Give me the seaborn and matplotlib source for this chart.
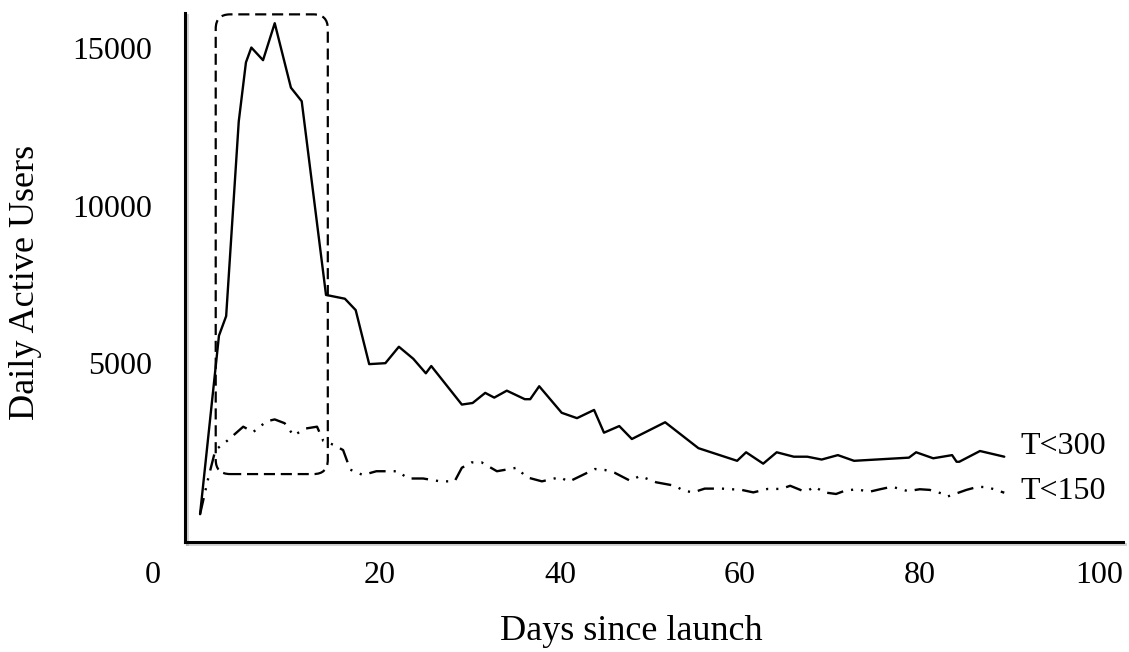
import matplotlib
matplotlib.use("Agg")
import matplotlib.pyplot as plt
import matplotlib.transforms as mtransforms
import matplotlib.patheffects as pe
from matplotlib.patches import FancyBboxPatch
import pandas as pd
import seaborn as sns

# ---------------- data ----------------
days_t300 = [0, 2.1, 2.9, 4.3, 5.1, 5.7, 7.0, 8.3, 10.1, 11.3, 14.0, 16.1, 17.3, 18.8,
             20.6, 22.1, 23.7, 25.1, 25.7, 29.1, 30.3, 31.7, 32.7, 34.1, 36.1, 36.7,
             37.7, 40.2, 41.9, 43.8, 44.9, 46.6, 48.0, 51.7, 55.4, 59.7, 60.7, 62.6,
             64.1, 66.0, 67.5, 69.1, 70.9, 72.7, 78.8, 79.6, 81.5, 83.6, 84.1, 84.4,
             86.7, 89.4]
users_t300 = [230, 5880, 6500, 12660, 14530, 15000, 14600, 15770, 13730, 13300, 7170,
              7050, 6690, 4980, 5010, 5530, 5150, 4690, 4920, 3700, 3750, 4070, 3920,
              4140, 3870, 3870, 4280, 3440, 3270, 3530, 2810, 3020, 2610, 3140, 2320,
              1920, 2190, 1830, 2190, 2050, 2050, 1960, 2100, 1920, 2020, 2190, 2000,
              2100, 1890, 1890, 2230, 2050]

days_t150 = [0, 0.9, 1.7, 3.0, 4.8, 5.9, 7.4, 8.3, 9.4, 10.4, 11.7, 13.0, 13.7, 14.8,
             15.9, 16.7, 18.1, 19.6, 20.7, 22.0, 23.1, 24.8, 26.7, 28.3, 29.1, 30.2,
             31.3, 33.0, 35.2, 36.3, 38.0, 40.0, 41.0, 43.9, 45.0, 46.1, 47.8, 48.9,
             49.8, 50.7, 52.8, 53.7, 54.8, 56.1, 58.0, 60.2, 61.5, 63.1, 64.6, 65.6,
             66.9, 67.6, 68.3, 69.4, 70.7, 71.7, 73.0, 74.4, 75.6, 76.9, 78.7, 80.0,
             81.1, 82.4, 83.1, 84.1, 85.2, 86.5, 87.6, 89.4]
users_t150 = [230, 1360, 2260, 2550, 3000, 2830, 3170, 3230, 3110, 2720, 2940, 3000,
              2550, 2430, 2260, 1640, 1470, 1590, 1590, 1590, 1360, 1360, 1270, 1270,
              1700, 1870, 1870, 1590, 1700, 1400, 1270, 1400, 1260, 1660, 1630, 1540,
              1290, 1440, 1340, 1240, 1130, 980, 920, 1040, 1040, 1000, 920, 1030,
              1030, 1130, 980, 980, 1100, 920, 870, 975, 1020, 940, 1020, 1100, 960,
              1020, 1000, 890, 790, 890, 1000, 1100, 1080, 910]

series_names = ["T<300", "T<150"]
x_ticks = [0, 20, 40, 60, 80, 100]
y_ticks = [5000, 10000, 15000]
x_label = "Days since launch"
y_label = "Daily Active Users"
highlight_days = [1.74, 14.2]      # dashed window around the launch peak
highlight_users = [1500, 16050]

# ---------------- style ----------------
sns.set_theme(style="white")
plt.rcParams["font.family"] = ["Liberation Serif", "DejaVu Serif"]

fig = plt.figure(figsize=(11.29, 6.52), dpi=100)
ax = fig.add_axes([0.1639, 0.1687, 0.8308, 0.8113])

df300 = pd.DataFrame({"day": days_t300, "users": users_t300})
df150 = pd.DataFrame({"day": days_t150, "users": users_t150})

sns.lineplot(data=df300, x="day", y="users", ax=ax, color="black", lw=1.7,
             estimator=None, sort=False)
sns.lineplot(data=df150, x="day", y="users", ax=ax, color="black", lw=1.7,
             linestyle=(0, (7.0, 3.4, 0.9, 3.4, 0.9, 3.4)),
             estimator=None, sort=False)

ax.set_xlim(-1.67, 102.6)
ax.set_ylim(-650, 16092)

# dashed rounded highlight box
box = FancyBboxPatch((highlight_days[0], highlight_users[0]),
                     highlight_days[1] - highlight_days[0],
                     highlight_users[1] - highlight_users[0],
                     boxstyle="round,pad=0,rounding_size=1.6",
                     mutation_aspect=285, fill=False, edgecolor="black",
                     lw=1.6, linestyle=(0, (5, 2.6)), zorder=3)
ax.add_patch(box)

# series end labels
for name, xs, ys, dy in [(series_names[0], days_t300, users_t300, 7.5),
                         (series_names[1], days_t150, users_t150, 1.0)]:
    ax.annotate(name, xy=(xs[-1], ys[-1]), xytext=(11.5, dy),
                textcoords="offset points", ha="left", va="center",
                fontsize=23, color="black")

# axes cosmetics
sns.despine(ax=ax)
for side in ["left", "bottom"]:
    sp = ax.spines[side]
    sp.set_linewidth(2.2)
    sp.set_color("black")
    sp.set_path_effects([pe.SimpleLineShadow(offset=(1.5, -1.5), shadow_color="gray",
                                             alpha=0.35), pe.Normal()])

ax.set_xticks(x_ticks)
ax.set_xticklabels([str(v) for v in x_ticks])
ax.set_yticks(y_ticks)
ax.set_yticklabels([str(v) for v in y_ticks])
ax.tick_params(axis="both", length=0, labelsize=23, colors="black")
ax.tick_params(axis="y", pad=24)
ax.tick_params(axis="x", pad=14)

# the reference places the "0" label to the left of the axis line
lbl0 = ax.get_xticklabels()[0]
lbl0.set_transform(lbl0.get_transform() +
                   mtransforms.ScaledTranslation(-0.47, 0, fig.dpi_scale_trans))

ax.set_xlabel(x_label, fontsize=26, color="black")
ax.set_ylabel(y_label, fontsize=26, color="black")
ax.xaxis.set_label_coords(0.4755, -0.138)
ax.yaxis.set_label_coords(-0.1525, 0.49)

fig.savefig("out.png", dpi=100)
